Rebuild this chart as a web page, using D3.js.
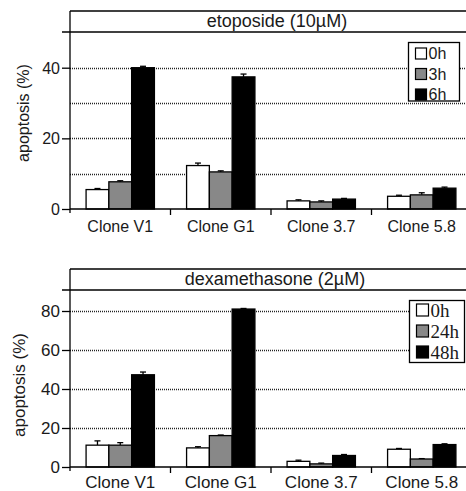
<!DOCTYPE html>
<html><head><meta charset="utf-8">
<script src="https://cdn.jsdelivr.net/npm/d3@7"></script>
<style>
html,body{margin:0;padding:0;background:#fff;}
svg{display:block;}
text{font-family:"Liberation Sans",Arial,sans-serif;fill:#1a1a1a;}
</style></head>
<body>
<svg id="chart" width="466" height="491"></svg>
<script>
const clones = ["Clone V1", "Clone G1", "Clone 3.7", "Clone 5.8"];

const etoSeries = ["0h", "3h", "6h"];
const eto0h = [5.5, 12.3, 2.3, 3.6];
const eto3h = [7.7, 10.5, 2.0, 4.0];
const eto6h = [40.0, 37.4, 2.8, 5.9];
const eto0hErr = [0.3, 0.7, 0.3, 0.3];
const eto3hErr = [0.3, 0.3, 0.3, 0.6];
const eto6hErr = [0.4, 0.8, 0.2, 0.3];
const etoTicks = [0, 20, 40];
const etoGrid = [10, 20, 30, 40];

const dexSeries = ["0h", "24h", "48h"];
const dex0h = [11.2, 9.8, 2.9, 9.1];
const dex24h = [11.2, 16.1, 1.6, 4.1];
const dex48h = [47.3, 81.0, 5.9, 11.5];
const dex0hErr = [2.2, 0.6, 0.6, 0.4];
const dex24hErr = [1.3, 0.3, 0.4, 0.2];
const dex48hErr = [1.4, 0.3, 0.5, 0.4];
const dexTicks = [0, 20, 40, 60, 80];
const dexGrid = [20, 40, 60, 80];

const fills = ["#ffffff", "#888888", "#000000"];
const svg = d3.select("#chart");

function panel(o) {
  const g = svg.append("g");
  const x = d3.scaleBand().domain(clones).range([70, 472]).paddingInner(0.32).paddingOuter(0.16);
  const xs = d3.scaleBand().domain(o.series).range([0, x.bandwidth()]);
  const y = d3.scaleLinear().domain([0, o.refVal]).range([o.y0, o.yRef]);

  // frame / title band
  g.append("line").attr("x1", 70).attr("x2", 470).attr("y1", o.top).attr("y2", o.top).attr("stroke", "#000").attr("stroke-width", 1.3);
  g.append("line").attr("x1", 62).attr("x2", 470).attr("y1", o.band).attr("y2", o.band).attr("stroke", "#000").attr("stroke-width", 1.3);
  g.append("text").attr("x", o.titleX).attr("y", o.band - 5).attr("text-anchor", "middle")
    .style("font-size", "18px").text(o.title);

  // grid
  g.selectAll("line.grid").data(o.grid).enter().append("line")
    .attr("x1", 70).attr("x2", 470).attr("y1", d => Math.round(y(d)) + 0.5).attr("y2", d => Math.round(y(d)) + 0.5)
    .attr("stroke", "#222").attr("stroke-width", 1.4).attr("stroke-dasharray", "1,1");

  // bars
  const vals = o.values, errs = o.errors;
  o.series.forEach((s, si) => {
    const gg = g.append("g");
    clones.forEach((c, ci) => {
      const v = vals[si][ci], e = errs[si][ci];
      const bx = x(c) + xs(s), bw = xs.bandwidth();
      const cx = bx + bw / 2;
      gg.append("line").attr("x1", cx).attr("x2", cx).attr("y1", y(v)).attr("y2", y(v + e)).attr("stroke", "#000").attr("stroke-width", 1.3);
      gg.append("line").attr("x1", cx - 3).attr("x2", cx + 3).attr("y1", y(v + e)).attr("y2", y(v + e)).attr("stroke", "#000").attr("stroke-width", 1.3);
      gg.append("rect").attr("x", bx).attr("y", y(v)).attr("width", bw).attr("height", y(0) - y(v))
        .attr("fill", fills[si]).attr("stroke", "#000").attr("stroke-width", 1.3);
    });
  });

  // y axis
  const ya = g.append("g").attr("transform", "translate(70,0)")
    .call(d3.axisLeft(y).tickValues(o.ticks).tickSize(8).tickPadding(2).tickFormat(d3.format("d")));
  ya.select(".domain").remove();
  ya.selectAll(".tick line").attr("stroke", "#000").attr("stroke-width", 1.3);
  ya.selectAll(".tick text").style("font-size", o.tickFont).attr("fill", "#1a1a1a").attr("dy", "0.34em");
  g.append("line").attr("x1", 70).attr("x2", 70).attr("y1", o.top).attr("y2", y(0) + 4).attr("stroke", "#000").attr("stroke-width", 1.3);

  // x axis
  g.append("line").attr("x1", 70).attr("x2", 470).attr("y1", y(0)).attr("y2", y(0)).attr("stroke", "#000").attr("stroke-width", 1.3);
  const bounds = clones.slice(1).map(c => x(c) - x.step() * x.paddingInner() / 2);
  g.selectAll("line.xt").data(bounds).enter().append("line")
    .attr("x1", d => d).attr("x2", d => d).attr("y1", y(0)).attr("y2", y(0) + 6).attr("stroke", "#000").attr("stroke-width", 1.3);
  const xa = g.append("g").attr("transform", `translate(0,${y(0)})`)
    .call(d3.axisBottom(x).tickSize(0).tickPadding(o.xPad));
  xa.select(".domain").remove();
  xa.selectAll(".tick text").style("font-size", o.xFont).attr("fill", "#1a1a1a");

  // y label
  g.append("text").attr("transform", `translate(${o.ylabX},${o.ylabY}) rotate(-90)`)
    .attr("text-anchor", "middle").style("font-size", o.ylabFont).text("apoptosis (%)");

  // legend
  const L = o.legend;
  g.append("rect").attr("x", L.x).attr("y", L.y).attr("width", L.w).attr("height", L.h)
    .attr("fill", "#fff").attr("stroke", "#000").attr("stroke-width", 1.3);
  o.series.forEach((s, i) => {
    const cy = L.rows[i];
    g.append("rect").attr("x", L.x + 7).attr("y", cy - L.sw / 2).attr("width", L.sw).attr("height", L.sw)
      .attr("fill", fills[i]).attr("stroke", "#000").attr("stroke-width", 1.2);
    g.append("text").attr("x", L.x + 9 + L.sw).attr("y", cy).attr("dy", "0.36em")
      .style("font-size", L.font).style("font-family", L.family).text(s);
  });
}

panel({
  series: etoSeries, values: [eto0h, eto3h, eto6h], errors: [eto0hErr, eto3hErr, eto6hErr],
  ticks: etoTicks, grid: etoGrid, refVal: 40, y0: 209, yRef: 67.7,
  top: 11, band: 32, title: "etoposide (10\u00b5M)", titleX: 277,
  tickFont: "16px", xFont: "16px", xPad: 12, ylabX: 29, ylabY: 113, ylabFont: "16px",
  legend: { x: 408.5, y: 42.5, w: 51, h: 58.5, sw: 11, rows: [53.5, 74, 94.5], font: "16px",
    family: "'Liberation Sans',Arial,sans-serif" }
});

panel({
  series: dexSeries, values: [dex0h, dex24h, dex48h], errors: [dex0hErr, dex24hErr, dex48hErr],
  ticks: dexTicks, grid: dexGrid, refVal: 80, y0: 467, yRef: 311,
  top: 269, band: 290, title: "dexamethasone (2\u00b5M)", titleX: 275,
  tickFont: "17px", xFont: "17px", xPad: 9, ylabX: 25, ylabY: 385, ylabFont: "17px",
  legend: { x: 409.5, y: 300.5, w: 55, h: 62, sw: 12, rows: [310, 331, 352], font: "19px",
    family: "'Liberation Serif','Times New Roman',serif" }
});
</script>
</body></html>
